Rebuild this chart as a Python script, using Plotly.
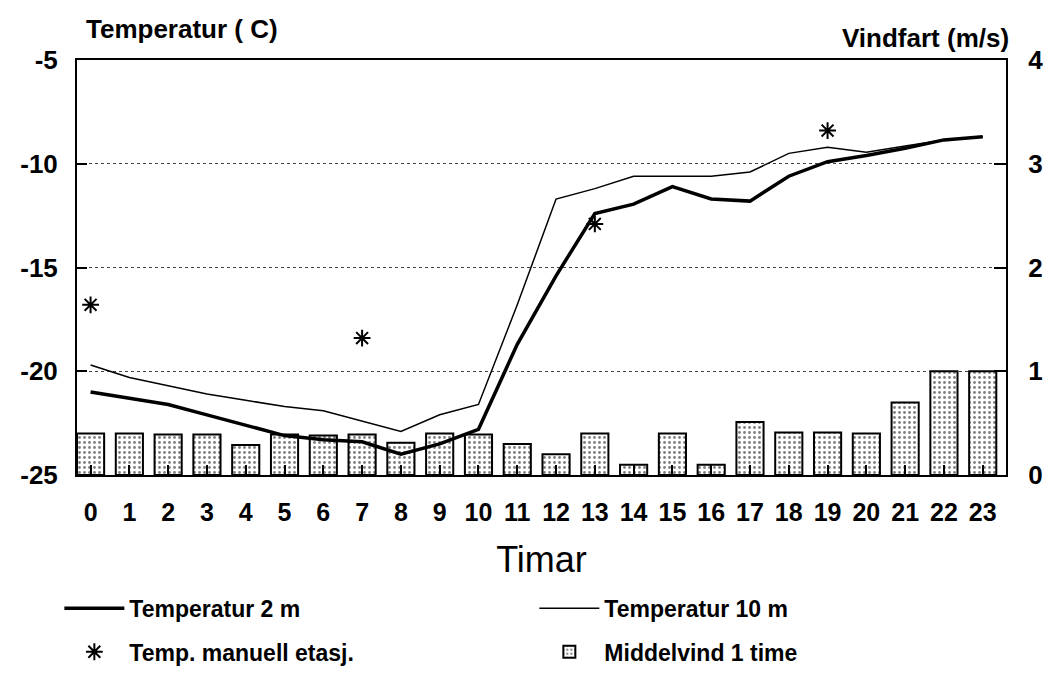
import plotly.graph_objects as go

hours = list(range(24))
hour_labels = [str(h) for h in hours]

temp_2m = [-21.0, -21.3, -21.6, -22.1, -22.6, -23.1, -23.3, -23.4, -24.0, -23.5,
           -22.8, -18.7, -15.4, -12.4, -11.95, -11.1, -11.7, -11.8, -10.6, -9.9,
           -9.6, -9.25, -8.85, -8.7]
temp_10m = [-19.7, -20.3, -20.7, -21.1, -21.4, -21.7, -21.9, -22.4, -22.9, -22.1,
            -21.6, -16.8, -11.7, -11.2, -10.6, -10.6, -10.6, -10.4, -9.5, -9.2,
            -9.45, -9.15, -8.85, -8.7]
manual_hours = [0, 7, 13, 19]
manual_temp = [-16.8, -18.4, -12.9, -8.4]
wind = [0.40, 0.40, 0.39, 0.39, 0.29, 0.39, 0.38, 0.39, 0.31, 0.40, 0.39, 0.30,
        0.20, 0.40, 0.10, 0.40, 0.10, 0.51, 0.41, 0.41, 0.40, 0.70, 1.00, 1.00]

temp_ticks = [-25, -20, -15, -10, -5]
temp_ticktext = ["-25", "-20", "-15", "-10", "-5"]
wind_ticks = [0, 1, 2, 3, 4]

FONT = "Liberation Sans, Arial, sans-serif"

fig = go.Figure()

fig.add_trace(go.Bar(
    x=hours, y=wind, yaxis="y", width=0.7, name="Middelvind 1 time",
    marker=dict(color="white", line=dict(color="black", width=2),
                pattern=dict(shape=".", fgcolor="black", bgcolor="white", size=5, solidity=0.25)),
    legend="legend2", legendrank=2,
))
fig.add_trace(go.Scatter(
    x=hours, y=temp_2m, yaxis="y2", mode="lines", name="Temperatur 2 m",
    line=dict(color="black", width=3.5), legend="legend", legendrank=1,
))
fig.add_trace(go.Scatter(
    x=hours, y=temp_10m, yaxis="y2", mode="lines", name="Temperatur 10 m",
    line=dict(color="black", width=1.5), legend="legend", legendrank=2,
))
fig.add_trace(go.Scatter(
    x=manual_hours, y=manual_temp, yaxis="y2", mode="markers", name="Temp. manuell etasj.",
    marker=dict(symbol="asterisk", size=14, line=dict(color="black", width=2), color="black"),
    legend="legend2", legendrank=1,
))

legend_common = dict(
    orientation="h", xanchor="left", yanchor="middle", bgcolor="rgba(0,0,0,0)",
    font=dict(family=FONT, size=23, color="black", weight="bold"),
    itemwidth=60, entrywidth=400, entrywidthmode="pixels", traceorder="normal",
)

fig.update_layout(
    width=1047, height=677,
    margin=dict(l=68, r=25, t=52, b=195),
    paper_bgcolor="white", plot_bgcolor="white",
    font=dict(family=FONT, color="black"),
    bargap=0.3,
    xaxis=dict(
        range=[-0.35, 23.6], tickvals=hours, ticktext=hour_labels,
        ticks="inside", ticklen=10, tickwidth=2, tickcolor="black",
        showline=True, linewidth=2, linecolor="black", mirror=True,
        showgrid=False, zeroline=False, ticklabelstandoff=14,
        tickfont=dict(family=FONT, size=25, weight="bold"),
        title=dict(text="Timar", font=dict(family=FONT, size=36), standoff=22),
    ),
    yaxis=dict(
        side="right", range=[0, 4], tickvals=wind_ticks,
        ticks="inside", ticklen=12, tickwidth=2, tickcolor="black",
        showline=True, linewidth=2, linecolor="black",
        showgrid=True, gridcolor="#444", gridwidth=1, griddash="dot",
        zeroline=False, ticklabelstandoff=15,
        tickfont=dict(family=FONT, size=26, weight="bold"),
    ),
    yaxis2=dict(
        side="left", overlaying="y", range=[-25, -5],
        tickvals=temp_ticks, ticktext=temp_ticktext,
        ticks="inside", ticklen=10, tickwidth=2, tickcolor="black",
        showline=True, linewidth=2, linecolor="black",
        showgrid=False, zeroline=False, ticklabelstandoff=12,
        tickfont=dict(family=FONT, size=26, weight="bold"),
    ),
    legend=dict(x=-0.019, y=-0.321, **legend_common),
    legend2=dict(x=-0.019, y=-0.426, **legend_common),
    annotations=[
        dict(text="Temperatur ( C)", xref="paper", yref="paper", x=0.007, y=1.074,
             xanchor="left", yanchor="middle", showarrow=False,
             font=dict(family=FONT, size=26, weight="bold")),
        dict(text="Vindfart (m/s)", xref="paper", yref="paper", x=1.005, y=1.053,
             xanchor="right", yanchor="middle", showarrow=False,
             font=dict(family=FONT, size=26, weight="bold")),
    ],
)

fig.write_html("out.html")
